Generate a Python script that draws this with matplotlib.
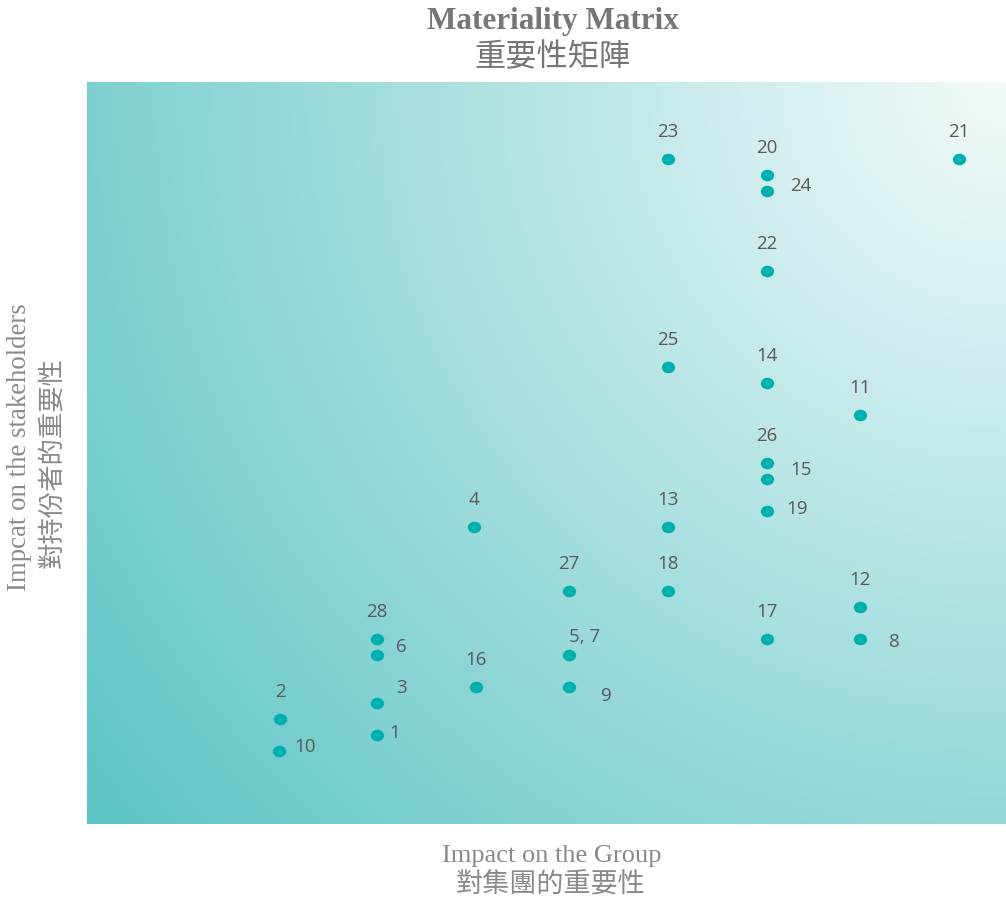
import numpy as np
import matplotlib.pyplot as plt
from matplotlib.path import Path
from matplotlib.colors import LinearSegmentedColormap

# issue numbers, impact on the group (x) and impact on stakeholders (y)
labels = ['23', '20', '24', '21', '22', '25', '14', '11', '26', '15',
          '19', '4', '13', '27', '18', '12', '17', '8', '28', '6',
          '5, 7', '16', '9', '3', '2', '1', '10']
x_vals = [5.96, 6.97, 6.97, 8.94, 6.97, 5.96, 6.97, 7.93, 6.97, 6.97,
          6.97, 3.97, 5.96, 4.94, 5.96, 7.93, 6.97, 7.93, 2.97, 2.97,
          4.94, 3.99, 4.94, 2.97, 1.98, 2.97, 1.97]
y_vals = [42, 41, 40, 42, 35, 29, 28, 26, 23, 22,
          20, 19, 19, 15, 15, 14, 12, 12, 12, 11,
          11, 9, 9, 8, 7, 6, 5]
# label offsets in pixels (dx, dy) from the dot
offsets = [(0, 27), (0, 27), (34, 5), (0, 27), (0, 27), (0, 27), (0, 27), (0, 27), (0, 27), (34, 9),
           (30, 2), (0, 27), (0, 27), (0, 27), (0, 27), (0, 27), (0, 27), (34, -3), (0, 27), (25, 8),
           (16, 18), (0, 27), (38, -9), (25, 15), (0, 27), (18, 2), (26, 4)]

W, H = 1006, 902
fig = plt.figure(figsize=(W / 100, H / 100), dpi=100)
ax = fig.add_axes([87 / W, 1 - 824 / H, 919 / W, 742 / H])

xlim = (0, 919 / 97.5)
ylim = (0.44, 46.81)

# radial gradient from the top-right corner (white) to bottom-left (teal)
gx, gy = np.meshgrid(np.linspace(0, 919, 460), np.linspace(0, 742, 372))
d = np.sqrt((919 - gx) ** 2 + (742 - gy) ** 2)
d = d / d.max()
cmap = LinearSegmentedColormap.from_list('bg', ['#f3fafa', '#5dc4c4'])
ax.imshow(d, cmap=cmap, origin='lower', extent=(*xlim, *ylim), aspect='auto',
          interpolation='bilinear', zorder=0)

circ = Path.unit_circle()
dot = Path(circ.vertices * [1, 0.87], circ.codes)
ax.plot(x_vals, y_vals, ls='none', marker=dot, markersize=9.6, color='#00b0b0',
        markeredgewidth=0, zorder=3)

for lab, x, y, (dx, dy) in zip(labels, x_vals, y_vals, offsets):
    ax.annotate(lab, (x, y), xytext=(dx, dy), textcoords='offset pixels',
                ha='center', va='center', fontsize=13.5, color='#595959',
                family='Open Sans', zorder=4)

ax.set_xlim(*xlim)
ax.set_ylim(*ylim)
ax.axis('off')

grey = '#767676'
cjk = ['Noto Sans CJK TC', 'DejaVu Sans']
fig.text(553 / W, 1 - 22 / H, 'Materiality Matrix', ha='center', va='center',
         fontsize=22.5, fontweight='bold', family='Liberation Serif', color=grey)
fig.text(553 / W, 1 - 57 / H, '重要性矩陣', ha='center', va='center',
         fontsize=22.5, family=cjk, color=grey)
fig.text(552 / W, 1 - 856 / H, 'Impact on the Group', ha='center', va='center',
         fontsize=19, family='Liberation Serif', color='#8a8a8a')
fig.text(551 / W, 1 - 885 / H, '對集團的重要性', ha='center', va='center',
         fontsize=19.5, family=cjk, color='#8a8a8a')
fig.text(20 / W, 1 - 447 / H, 'Impcat on the stakeholders', ha='center', va='center',
         rotation=90, fontsize=19.3, family='Liberation Serif', color='#8a8a8a')
fig.text(52 / W, 1 - 463 / H, '對持份者的重要性', ha='center', va='center',
         rotation=90, fontsize=19, family=cjk, color='#8a8a8a')

fig.savefig('out.png', dpi=100)
